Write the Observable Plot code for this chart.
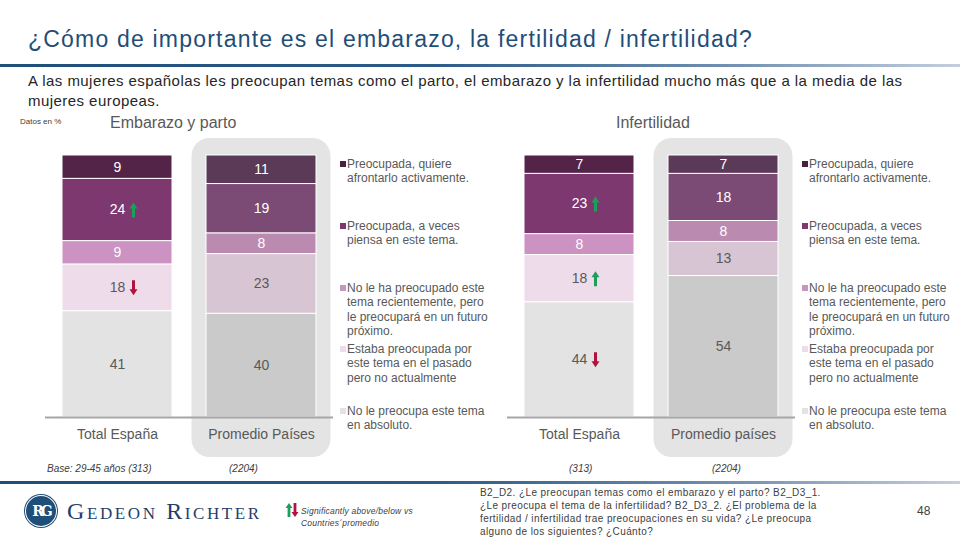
<!DOCTYPE html>
<html>
<head>
<meta charset="utf-8">
<script src="https://cdn.jsdelivr.net/npm/d3@7"></script>
<script src="https://cdn.jsdelivr.net/npm/@observablehq/plot@0.6"></script>
<style>
  html, body { margin: 0; padding: 0; background: #fff; }
  #page { position: relative; width: 960px; height: 540px; overflow: hidden; font-family: "Liberation Sans", Arial, sans-serif; color: #595959; }
  .abs { position: absolute; white-space: nowrap; }
  .title { left: 28px; top: 28px; font-size: 23px; line-height: 22px; letter-spacing: 1.2px; color: #1F4E79; }
  .rule { left: 0; width: 960px; height: 3px; background: linear-gradient(to right, #1F4E79 0%, #2C5B88 45%, #6F8DAE 75%, #C3CFDD 100%); }
  .subtitle { left: 28px; top: 71px; font-size: 15px; line-height: 19.5px; letter-spacing: 0.45px; color: #262626; }
  .section { font-size: 16px; color: #595959; }
  .legend { font-size: 12px; line-height: 14.4px; color: #595959; }
  .legend .item { position: absolute; left: 0; white-space: nowrap; }
  .legend .sw { position: absolute; left: -7px; top: 4px; width: 6px; height: 6px; }
  .base { font-size: 10px; font-style: italic; color: #404040; }
  .foot { font-size: 10px; line-height: 13px; letter-spacing: 0.4px; color: #404040; }
  .chart { position: absolute; top: 130px; }
</style>
</head>
<body>
<div id="page">
  <div class="abs title">¿Cómo de importante es el embarazo, la fertilidad / infertilidad?</div>
  <div class="abs rule" style="top:64px"></div>
  <div class="abs subtitle">A las mujeres españolas les preocupan temas como el parto, el embarazo y la infertilidad mucho más que a la media de las<br>mujeres europeas.</div>
  <div class="abs" style="left:20px; top:117px; font-size:8px; color:#404040;">Datos en %</div>
  <div class="abs section" style="left:110px; top:114px;">Embarazo y parto</div>
  <div class="abs section" style="left:616px; top:114px;">Infertilidad</div>

  <div id="chartLeft" class="chart" style="left:40px;"></div>
  <div id="chartRight" class="chart" style="left:502px;"></div>

  <div id="legendLeft" class="abs legend" style="left:347px; top:157px;"></div>
  <div id="legendRight" class="abs legend" style="left:809px; top:157px;"></div>

  <div class="abs base" style="left:47px; top:463px;">Base: 29-45 años (313)</div>
  <div class="abs base" style="left:229px; top:463px;">(2204)</div>
  <div class="abs base" style="left:569px; top:463px;">(313)</div>
  <div class="abs base" style="left:712px; top:463px;">(2204)</div>

  <div class="abs rule" style="top:481px"></div>

  <div class="abs" style="left:25px; top:495px; width:32px; height:32px; border-radius:50%; background:#1F4E79; box-shadow: 0 0 0 1px #fff inset, 0 0 0 1px #1F4E79;"></div>
  <div class="abs" style="left:25px; top:495px; width:32px; height:32px; line-height:32px; text-align:center; color:#fff; font-family:'DejaVu Serif', serif; font-size:14px; font-weight:bold; letter-spacing:-3px;">RG</div>
  <div class="abs" style="left:67px; top:498px; font-family:'Liberation Serif', 'DejaVu Serif', serif; font-size:24px; color:#1F3E6B; letter-spacing:2.6px; font-variant: small-caps;">Gedeon Richter</div>
  <svg class="abs" style="left:285px; top:502px;" width="14" height="16" viewBox="0 0 14 16">
    <polygon points="2.6,15 2.6,6 0.5,6 4,1 7.5,6 5.4,6 5.4,15" fill="#1E9E5A"/>
    <polygon points="8.6,1 8.6,10 6.5,10 10,15 13.5,10 11.4,10 11.4,1" fill="#B0133F"/>
  </svg>
  <div class="abs" style="left:301px; top:505px; font-size:8.5px; line-height:12px; font-style:italic; letter-spacing:0.2px; color:#404040;">Significantly above/below vs<br>Countries´promedio</div>

  <div class="abs foot" style="left:480px; top:486px;">B2_D2. ¿Le preocupan temas como el embarazo y el parto?  B2_D3_1.<br>¿Le preocupa el tema de la infertilidad? B2_D3_2. ¿El problema de la<br>fertilidad / infertilidad trae preocupaciones en su vida? ¿Le preocupa<br>alguno de los siguientes? ¿Cuánto?</div>
  <div class="abs" style="left:917px; top:504px; font-size:12px; color:#404040;">48</div>
</div>

<script>
// ---- Data ----
// Categories, from bottom of the stack to the top
const categories = [
  "No le preocupa este tema en absoluto.",
  "Estaba preocupada por este tema en el pasado pero no actualmente",
  "No le ha preocupado este tema recientemente, pero le preocupará en un futuro próximo.",
  "Preocupada, a veces piensa en este tema.",
  "Preocupada, quiere afrontarlo activamente."
];
// Legend text lines (top to bottom)
const legendLines = [
  ["Preocupada, quiere", "afrontarlo  activamente."],
  ["Preocupada, a veces", "piensa en este tema."],
  ["No le ha preocupado este", "tema recientemente, pero", "le preocupará en un futuro", "próximo."],
  ["Estaba preocupada por", "este tema en el pasado", "pero no actualmente"],
  ["No le preocupa este tema", "en absoluto."]
];
const barsLeft = ["Total España", "Promedio Países"];
const barsRight = ["Total España", "Promedio países"];

const embarazoEspana   = [41, 18, 9, 24, 9];
const embarazoPromedio = [40, 23, 8, 19, 11];
const embarazoSig      = [0, -1, 0, 1, 0];   // 1 = significantly above, -1 = below

const infertEspana     = [44, 18, 8, 23, 7];
const infertPromedio   = [54, 13, 8, 18, 7];
const infertSig        = [-1, 1, 0, 1, 0];

// ---- Styles ----
const colorsEspana   = ["#E3E3E3", "#EFDCEB", "#CC92C2", "#7D3870", "#532447"];
const colorsPromedio = ["#CACACA", "#D8C5D3", "#BB8AB1", "#7B4A75", "#5A3A56"];
const textColors     = ["#595959", "#595959", "#ffffff", "#ffffff", "#ffffff"];
const legendColors   = ["#4A1F40", "#7D3870", "#C497BC", "#EFDCEB", "#E3E3E3"];
const upColor = "#1E9E5A", downColor = "#B0133F";

// filled block arrow pointing up (rotated by the vector mark)
const blockArrow = {
  draw(c, l) {
    const h = 6, w = 4, s = 1.5;
    c.moveTo(-s, 0); c.lineTo(-s, -l + h); c.lineTo(-w, -l + h); c.lineTo(0, -l);
    c.lineTo(w, -l + h); c.lineTo(s, -l + h); c.lineTo(s, 0); c.closePath();
  }
};

function buildRows(bars, esp, prom, sig) {
  const rows = [];
  categories.forEach((c, i) => {
    rows.push({bar: bars[0], cat: c, value: esp[i], fill: colorsEspana[i], tf: textColors[i], sig: sig[i]});
    rows.push({bar: bars[1], cat: c, value: prom[i], fill: colorsPromedio[i], tf: textColors[i], sig: 0});
  });
  return rows;
}

function chart(bars, esp, prom, sig) {
  const rows = buildRows(bars, esp, prom, sig);
  const st = (o) => Plot.stackY({offset: "normalize", x: "bar", y: "value", z: "cat", ...o});
  return Plot.plot({
    width: 300, height: 330,
    marginTop: 25, marginBottom: 43, marginLeft: 5, marginRight: 7,
    style: {fontFamily: "'Liberation Sans', Arial, sans-serif", fontSize: "14px", color: "#595959", background: "transparent", overflow: "visible"},
    x: {domain: bars, paddingInner: 0.236, paddingOuter: 0.118, axis: null},
    y: {domain: [0, 1], axis: null},
    color: {type: "identity"},
    marks: [
      Plot.barY([bars[1]], {x: d => d, y1: 0, y2: 1, fill: "#E4E4E4", rx: 18,
        insetLeft: -14.5, insetRight: -14.5, insetTop: -17, insetBottom: -40}),
      Plot.barY(rows, st({fill: "fill", stroke: "#ffffff", strokeWidth: 1})),
      Plot.ruleY([0], {stroke: "#A6A6A6", strokeWidth: 2}),
      Plot.axisX({tickSize: 0, tickPadding: 12, fontSize: 14, fill: "#595959", label: null}),
      Plot.text(rows, st({text: d => String(d.value), fill: "tf", fontSize: 14})),
      Plot.vector(rows, st({length: 15, rotate: d => d.sig < 0 ? 180 : 0, shape: blockArrow,
        anchor: "middle", stroke: "none",
        fill: d => d.sig > 0 ? upColor : downColor,
        fillOpacity: d => d.sig ? 1 : 0, dx: 16}))
    ]
  });
}

document.getElementById("chartLeft").append(chart(barsLeft, embarazoEspana, embarazoPromedio, embarazoSig));
document.getElementById("chartRight").append(chart(barsRight, infertEspana, infertPromedio, infertSig));

// Legends
const legendTops = [0, 62, 124, 185, 247];
function legend(el) {
  legendLines.forEach((lines, i) => {
    const it = document.createElement("div");
    it.className = "item";
    it.style.top = legendTops[i] + "px";
    it.innerHTML = lines.join("<br>");
    const sw = document.createElement("div");
    sw.className = "sw";
    sw.style.background = legendColors[i];
    it.append(sw);
    el.append(it);
  });
}
legend(document.getElementById("legendLeft"));
legend(document.getElementById("legendRight"));
</script>
</body>
</html>
